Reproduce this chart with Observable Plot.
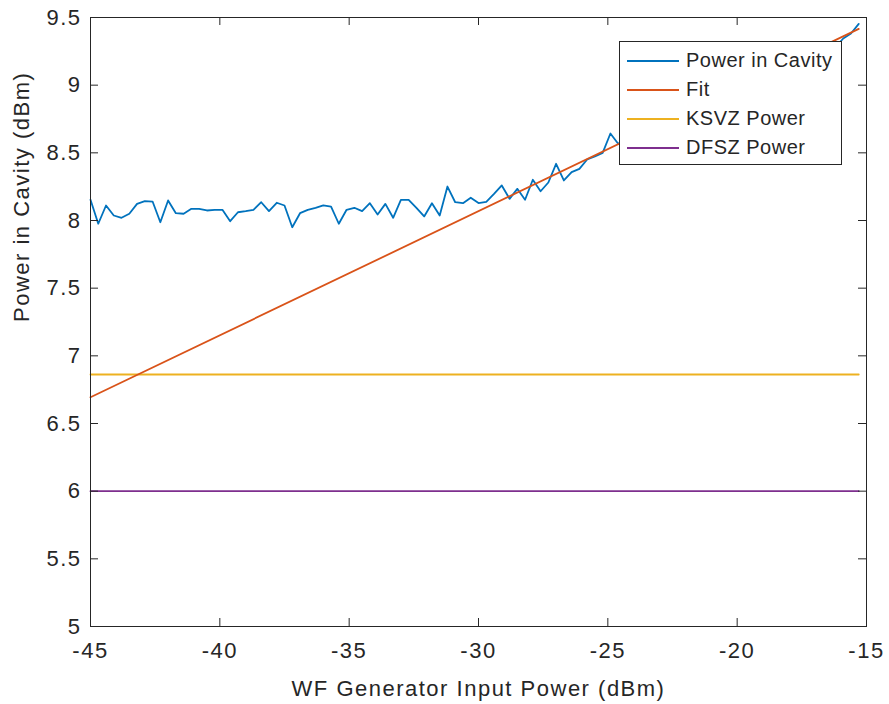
<!DOCTYPE html>
<html>
<head>
<meta charset="utf-8">
<script src="https://cdn.jsdelivr.net/npm/d3@7"></script>
<script src="https://cdn.jsdelivr.net/npm/@observablehq/plot@0.6"></script>
<style>
  body { margin: 0; background: #fff; }
  #chart { position: relative; width: 889px; height: 704px; font-family: "Liberation Sans", Arial, sans-serif; color: #262626; }
  #chart svg { display: block; }
  .legend { position: absolute; left: 619px; top: 41px; width: 221px; height: 122px; border: 1px solid #262626; background: #fff; }
  .legend .row { position: absolute; left: 0; height: 29px; width: 221px; }
  .legend .swatch { position: absolute; left: 7px; top: 14px; width: 52px; height: 2px; }
  .legend .name { position: absolute; left: 66px; top: 0; line-height: 29px; font-size: 20px; letter-spacing: 0.5px; white-space: nowrap; color: #262626; }
</style>
</head>
<body>
<div id="chart"></div>
<script>
// Generator sweep (dBm) and measured cavity power (dBm)
const inputPower = [
  -45.0, -44.7, -44.4, -44.1, -43.8, -43.5, -43.2, -42.9, -42.6, -42.3,
  -42.0, -41.7, -41.4, -41.1, -40.8, -40.5, -40.2, -39.9, -39.6, -39.3,
  -39.0, -38.7, -38.4, -38.1, -37.8, -37.5, -37.2, -36.9, -36.6, -36.3,
  -36.0, -35.7, -35.4, -35.1, -34.8, -34.5, -34.2, -33.9, -33.6, -33.3,
  -33.0, -32.7, -32.4, -32.1, -31.8, -31.5, -31.2, -30.9, -30.6, -30.3,
  -30.0, -29.7, -29.4, -29.1, -28.8, -28.5, -28.2, -27.9, -27.6, -27.3,
  -27.0, -26.7, -26.4, -26.1, -25.8, -25.5, -25.2, -24.9, -24.6, -24.3,
  -24.0, -23.7, -23.4, -23.1, -22.8, -22.5, -22.2, -21.9, -21.6, -21.3,
  -21.0, -20.7, -20.4, -20.1, -19.8, -19.5, -19.2, -18.9, -18.6, -18.3,
  -18.0, -17.7, -17.4, -17.1, -16.8, -16.5, -16.2, -15.9, -15.6, -15.3
];
const cavityPower = [
  8.153, 7.976, 8.111, 8.037, 8.020, 8.050, 8.123, 8.143, 8.140, 7.987,
  8.148, 8.054, 8.050, 8.086, 8.086, 8.074, 8.079, 8.079, 7.995, 8.061,
  8.069, 8.079, 8.135, 8.069, 8.131, 8.111, 7.950, 8.054, 8.079, 8.094,
  8.111, 8.103, 7.976, 8.079, 8.094, 8.069, 8.128, 8.044, 8.123, 8.020,
  8.153, 8.153, 8.094, 8.030, 8.128, 8.037, 8.251, 8.135, 8.128, 8.168,
  8.129, 8.137, 8.196, 8.259, 8.160, 8.234, 8.153, 8.301, 8.216, 8.281,
  8.419, 8.296, 8.357, 8.382, 8.451, 8.473, 8.500, 8.643, 8.567, 8.600,
  8.580, 8.660, 8.700, 8.680, 8.740, 8.730, 8.800, 8.780, 8.840, 8.860,
  8.850, 8.920, 8.900, 8.950, 8.990, 8.970, 9.030, 9.050, 9.040, 9.100,
  9.120, 9.110, 9.170, 9.200, 9.190, 9.250, 9.280, 9.345, 9.382, 9.453
];

// Linear fit, drawn between its end points
const fitInput = [-45.0, -15.3];
const fitPower = [6.694, 9.416];

// Reference power levels (dBm)
const ksvzInput = [-45.0, -15.3];
const ksvzPower = [6.862, 6.862];
const dfszInput = [-45.0, -15.3];
const dfszPower = [6.0, 6.0];

const xTicks = [-45, -40, -35, -30, -25, -20, -15];
const yTicks = [5, 5.5, 6, 6.5, 7, 7.5, 8, 8.5, 9, 9.5];

const seriesNames = ["Power in Cavity", "Fit", "KSVZ Power", "DFSZ Power"];
const seriesColors = ["#0072BD", "#D95319", "#EDB120", "#7E2F8E"];

const toRows = (xs, ys) => xs.map((x, i) => ({x, y: ys[i]}));
const axisColor = "#262626";
const W = 889, H = 704, mL = 90, mR = 23, mT = 17, mB = 78;
const innerW = W - mL - mR, innerH = H - mT - mB;
const tickLen = 8;
const lineW = 1.8;
const fmt = d => String(d);

const plot = Plot.plot({
  width: W,
  height: H,
  marginLeft: mL,
  marginRight: mR,
  marginTop: mT,
  marginBottom: mB,
  style: {fontFamily: "'Liberation Sans', Arial, sans-serif", fontSize: "22px", color: axisColor, background: "#fff", letterSpacing: "1.5px"},
  x: {domain: [-45, -15]},
  y: {domain: [5, 9.5]},
  marks: [
    // series
    Plot.line(toRows(dfszInput, dfszPower), {x: "x", y: "y", stroke: seriesColors[3], strokeWidth: lineW}),
    Plot.line(toRows(ksvzInput, ksvzPower), {x: "x", y: "y", stroke: seriesColors[2], strokeWidth: lineW}),
    Plot.line(toRows(inputPower, cavityPower), {x: "x", y: "y", stroke: seriesColors[0], strokeWidth: lineW}),
    Plot.line(toRows(fitInput, fitPower), {x: "x", y: "y", stroke: seriesColors[1], strokeWidth: lineW}),
    // box and inward ticks on all four sides
    Plot.frame({stroke: axisColor, strokeWidth: 1}),
    Plot.tickX(xTicks, {x: d => d, stroke: axisColor, insetTop: innerH - tickLen}),
    Plot.tickX(xTicks, {x: d => d, stroke: axisColor, insetBottom: innerH - tickLen}),
    Plot.tickY(yTicks, {y: d => d, stroke: axisColor, insetRight: innerW - tickLen}),
    Plot.tickY(yTicks, {y: d => d, stroke: axisColor, insetLeft: innerW - tickLen}),
    // tick labels
    Plot.axisX({ticks: xTicks, tickSize: 0, tickPadding: 16, tickFormat: fmt, label: null, fill: axisColor}),
    Plot.axisY({ticks: yTicks, tickSize: 0, tickPadding: 9, tickFormat: fmt, label: null, fill: axisColor}),
    // axis titles
    Plot.text(["WF Generator Input Power (dBm)"], {frameAnchor: "bottom", lineAnchor: "top", dy: 54, fill: axisColor}),
    Plot.text(["Power in Cavity (dBm)"], {frameAnchor: "left", lineAnchor: "top", rotate: -90, dx: -77, fill: axisColor})
  ]
});

const chart = document.getElementById("chart");
chart.appendChild(plot);

// legend box inside the upper right of the axes
const legend = document.createElement("div");
legend.className = "legend";
seriesNames.forEach((name, i) => {
  const row = document.createElement("div");
  row.className = "row";
  row.style.top = (4 + i * 29) + "px";
  const sw = document.createElement("div");
  sw.className = "swatch";
  sw.style.background = seriesColors[i];
  const label = document.createElement("div");
  label.className = "name";
  label.textContent = name;
  row.appendChild(sw);
  row.appendChild(label);
  legend.appendChild(row);
});
chart.appendChild(legend);
</script>
</body>
</html>
